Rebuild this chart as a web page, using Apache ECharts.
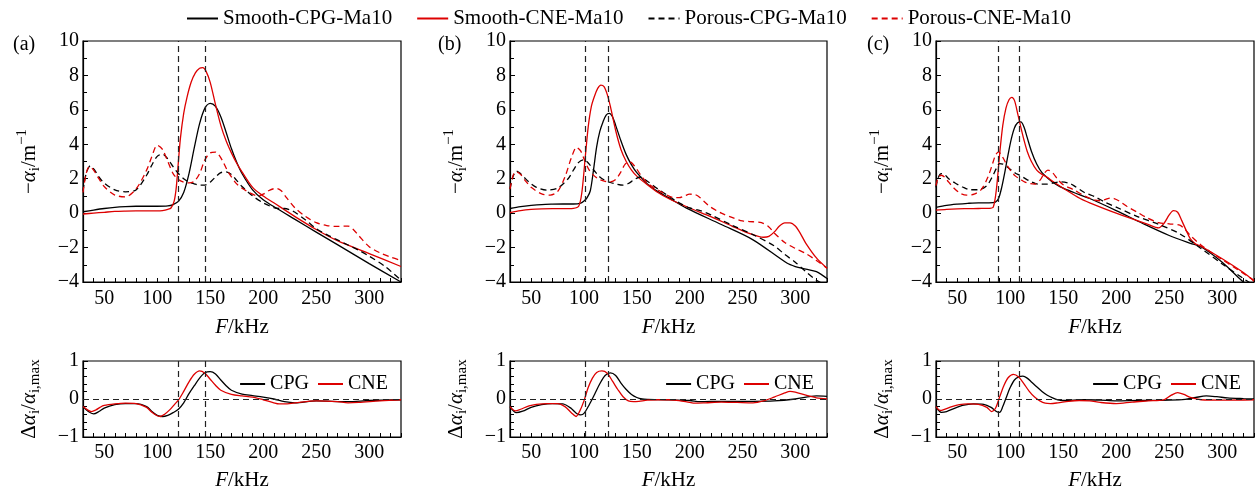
<!DOCTYPE html>
<html>
<head>
<meta charset="utf-8">
<script src="https://cdn.jsdelivr.net/npm/echarts@6/dist/echarts.min.js"></script>
<style>html,body{margin:0;padding:0;background:#fff;}#chart{width:1257px;height:495px;}</style>
</head>
<body>
<div id="chart"></div>
<script>
// ---------- tick labels ----------
const xTickLabels = [50, 100, 150, 200, 250, 300];
const xTicks = [30, 40, 50, 60, 70, 80, 90, 100, 110, 120, 130, 140, 150, 160, 170, 180, 190, 200, 210, 220, 230, 240, 250, 260, 270, 280, 290, 300, 310, 320, 330];
const panelLabels = ['(a)', '(b)', '(c)'];
const seriesNames = ['Smooth-CPG-Ma10', 'Smooth-CNE-Ma10', 'Porous-CPG-Ma10', 'Porous-CNE-Ma10'];
const diffNames = ['CPG', 'CNE'];

// ---------- vertical reference lines (kHz) ----------
const aVLines = [120, 145];
const bVLines = [101, 123];
const cVLines = [89, 109];

// ---------- panel (a) ----------
const aSmCpgF = [30,40,50,60,70,80,90,100,110,115,120,125,130,135,140,145,150,155,160,165,170,175,180,190,200,213,230,250,270,300,330];
const aSmCpgV = [0.08,0.18,0.27,0.34,0.38,0.40,0.40,0.40,0.42,0.5,0.68,1.2,2.3,3.8,5.2,6.1,6.38,6.2,5.6,4.7,3.75,2.95,2.3,1.35,0.78,0.27,-0.36,-1.1,-1.83,-2.93,-4.0];
const aSmCneF = [30,40,50,60,70,80,90,100,105,110,113,116,118,120,122,125,128,132,136,140,143,146,150,155,160,165,170,175,180,190,200,210,230,250,270,300,330];
const aSmCneV = [-0.05,0.0,0.05,0.1,0.12,0.13,0.13,0.13,0.15,0.22,0.3,0.7,1.5,3.0,4.4,5.8,6.7,7.6,8.15,8.42,8.45,8.25,7.6,6.3,5.1,4.2,3.5,2.9,2.4,1.5,1.0,0.6,-0.2,-0.95,-1.6,-2.35,-3.1];
const aPoCpgF = [30,33,37,41,45,50,60,70,80,90,95,100,105,110,115,120,125,130,135,140,145,150,155,160,165,170,175,180,190,200,210,215,220,225,230,240,250,260,270,280,290,300,315,330];
const aPoCpgV = [1.3,2.3,2.75,2.5,2.1,1.75,1.35,1.24,1.35,2.2,2.8,3.3,3.43,3.15,2.7,2.3,2.0,1.8,1.7,1.63,1.63,1.8,2.1,2.35,2.4,2.25,1.9,1.55,1.0,0.6,0.32,0.27,0.27,0.2,0.05,-0.4,-0.9,-1.25,-1.55,-1.85,-2.15,-2.5,-3.1,-3.9];
const aPoCneF = [30,33,36,40,45,50,60,70,80,90,95,100,105,110,115,120,125,130,135,140,145,150,155,158,162,166,170,175,180,190,195,200,205,210,213,217,222,230,240,250,260,270,280,285,290,300,310,320,330];
const aPoCneV = [1.2,2.3,2.7,2.5,2.0,1.55,1.05,0.95,1.4,2.5,3.3,3.95,3.7,3.0,2.3,1.95,1.8,1.76,1.85,2.3,3.1,3.5,3.55,3.4,3.0,2.5,2.1,1.7,1.45,1.1,1.0,1.1,1.3,1.42,1.43,1.3,0.9,0.3,-0.2,-0.55,-0.72,-0.77,-0.75,-0.95,-1.3,-1.95,-2.3,-2.55,-2.75];
const aDCpgF = [30,35,40,45,50,60,70,80,90,95,100,105,110,115,120,125,130,135,140,145,150,155,160,165,170,180,190,200,210,220,230,250,280,300,330];
const aDCpgV = [-0.2,-0.33,-0.39,-0.33,-0.24,-0.15,-0.12,-0.12,-0.2,-0.33,-0.43,-0.46,-0.43,-0.36,-0.27,-0.1,0.14,0.35,0.55,0.69,0.72,0.66,0.5,0.35,0.23,0.13,0.09,0.05,0.0,-0.07,-0.1,-0.05,-0.07,-0.04,-0.02];
const aDCneF = [30,35,38,42,46,50,60,70,80,90,95,100,103,107,112,117,120,125,130,135,140,145,150,155,160,170,180,190,200,210,215,220,230,250,270,280,290,310,330];
const aDCneV = [-0.2,-0.3,-0.33,-0.29,-0.22,-0.17,-0.13,-0.11,-0.12,-0.22,-0.35,-0.44,-0.46,-0.4,-0.28,-0.12,-0.03,0.2,0.45,0.65,0.74,0.68,0.52,0.36,0.23,0.12,0.08,0.05,-0.02,-0.1,-0.13,-0.13,-0.1,-0.05,-0.07,-0.1,-0.09,-0.05,-0.02];

// ---------- panel (b) ----------
const bSmCpgF = [30,40,50,60,70,80,90,97,100,103,106,109,112,115,118,121,124,127,130,135,140,145,150,160,170,180,197,230,260,292,300,310,320,330];
const bSmCpgV = [0.27,0.38,0.45,0.5,0.52,0.53,0.53,0.58,0.7,0.9,1.3,2.5,3.85,4.75,5.3,5.7,5.8,5.6,5.1,4.2,3.4,2.8,2.35,1.7,1.25,0.9,0.29,-0.66,-1.55,-2.9,-3.1,-3.25,-3.4,-3.8];
const bSmCneF = [30,40,50,60,70,80,90,95,98,101,104,107,110,113,116,119,122,125,130,135,140,145,150,160,170,180,200,220,240,255,265,270,275,280,285,290,295,300,305,310,320,330];
const bSmCneV = [0.03,0.15,0.22,0.25,0.26,0.26,0.28,0.4,1.2,3.1,5.0,6.2,6.8,7.25,7.44,7.35,6.9,6.2,4.8,3.7,3.0,2.5,2.15,1.65,1.2,0.85,0.3,-0.2,-0.75,-1.15,-1.35,-1.4,-1.35,-1.1,-0.75,-0.56,-0.56,-0.75,-1.2,-1.75,-2.6,-3.2];
const bPoCpgF = [30,33,36,39,43,48,55,65,75,85,90,95,100,105,110,115,120,125,130,137,142,147,153,160,170,180,190,200,210,220,240,260,280,290,300,310,320,326];
const bPoCpgV = [1.4,2.15,2.45,2.35,2.1,1.8,1.5,1.34,1.45,2.0,2.5,2.95,3.1,2.85,2.45,2.1,1.9,1.78,1.7,1.63,1.72,1.92,2.1,1.85,1.4,1.0,0.6,0.3,0.15,-0.1,-0.7,-1.25,-1.9,-2.4,-2.85,-3.4,-3.9,-4.1];
const bPoCneF = [30,33,36,40,45,50,60,68,75,82,88,93,97,101,105,110,115,120,125,130,135,139,143.5,147,150,155,160,170,180,185,190,195,200,205,210,215,220,230,240,250,260,268,275,280,290,300,310,320,330];
const bPoCneV = [1.4,2.2,2.4,2.25,1.85,1.5,1.12,1.05,1.25,2.1,3.2,3.82,3.6,3.0,2.5,2.15,1.95,1.85,1.82,1.95,2.4,2.85,2.98,2.8,2.55,2.1,1.75,1.35,1.0,0.9,0.9,1.0,1.1,1.08,0.9,0.6,0.35,0.0,-0.25,-0.45,-0.5,-0.55,-0.8,-1.15,-1.7,-2.05,-2.35,-2.75,-3.2];
const bDCpgF = [30,36,42,50,60,70,80,88,93,97,100,105,110,115,120,125,130,135,140,145,150,155,160,180,200,210,230,260,280,300,320,330];
const bDCpgV = [-0.2,-0.36,-0.32,-0.22,-0.15,-0.12,-0.13,-0.25,-0.38,-0.42,-0.38,-0.15,0.12,0.4,0.62,0.69,0.62,0.42,0.25,0.12,0.04,0.0,-0.01,-0.02,-0.04,-0.07,-0.06,-0.06,-0.05,0.0,0.08,0.07];
const bDCneF = [30,35,40,48,55,65,75,82,88,92.5,96,100,104,108,112,117,122,127,132,137,142,147,152,160,170,180,190,200,205,215,230,245,260,270,280,290,295,300,310,320,330];
const bDCneV = [-0.2,-0.31,-0.27,-0.18,-0.14,-0.12,-0.12,-0.2,-0.36,-0.46,-0.32,-0.05,0.3,0.55,0.7,0.74,0.68,0.47,0.25,0.06,-0.05,-0.07,-0.06,-0.03,-0.02,-0.02,-0.04,-0.09,-0.11,-0.1,-0.08,-0.09,-0.1,-0.05,0.05,0.16,0.2,0.18,0.1,0.03,0.0];

// ---------- panel (c) ----------
const cSmCpgF = [30,40,50,60,70,80,86,89,92,95,98,101,104,107,110,113,116,120,125,130,140,150,160,175,200,225,250,270,280,300,320,330];
const cSmCpgV = [0.33,0.45,0.52,0.57,0.6,0.6,0.64,0.85,1.5,2.4,3.4,4.3,4.95,5.25,5.3,5.0,4.4,3.6,2.85,2.35,1.8,1.45,1.2,0.85,0.15,-0.6,-1.3,-1.75,-1.95,-2.85,-4.0,-4.4];
const cSmCneF = [30,40,50,60,70,80,84,87,90,93,96,99,101.5,104,107,110,113,116,120,125,130,135,140,150,166,175,200,230,240,245,250,254,258,262,266,270,275,280,300,320,330];
const cSmCneV = [0.17,0.22,0.25,0.26,0.27,0.28,0.35,1.4,3.4,5.1,6.1,6.6,6.73,6.55,5.8,5.0,4.25,3.6,3.0,2.5,2.25,2.08,1.85,1.45,0.85,0.6,0.0,-0.65,-0.85,-0.6,-0.1,0.15,0.05,-0.45,-1.0,-1.5,-1.8,-1.92,-2.65,-3.45,-3.95];
const cPoCpgF = [30,32,35,38,42,48,55,62,70,78,83,87,90,93,97,101,105,109,115,120,124,128,135,140,147,155,160,170,180,190,200,220,240,260,280,300,320,330];
const cPoCpgV = [1.5,2.05,2.3,2.25,2.0,1.75,1.52,1.36,1.36,1.6,2.1,2.6,2.88,2.85,2.7,2.5,2.32,2.2,1.98,1.82,1.72,1.68,1.68,1.74,1.82,1.75,1.6,1.2,0.95,0.62,0.35,-0.2,-0.65,-1.2,-2.05,-2.95,-3.8,-4.2];
const cPoCneF = [30,32,35,38,42,47,53,59,66,73,79,83,86,89,92,96,100,105,110,114,118,123,128,132,135.6,140,145,150,160,170,180,185,190,194,198,203,210,220,230,240,250,260,265,270,280,290,300,310,320,330];
const cPoCneV = [1.6,2.05,2.2,2.1,1.8,1.45,1.15,1.05,1.1,1.4,2.1,2.8,3.35,3.56,3.35,2.9,2.5,2.15,1.95,1.8,1.72,1.69,1.9,2.3,2.5,2.35,1.95,1.65,1.35,1.0,0.75,0.72,0.8,0.87,0.85,0.7,0.4,0.05,-0.3,-0.55,-0.62,-0.7,-0.95,-1.3,-1.85,-2.3,-2.7,-3.1,-3.5,-3.9];
const cDCpgF = [30,35,40,48,55,65,75,82,87,90,93,96,100,104,108,112,116,120,125,130,135,140,145,150,160,170,185,200,220,250,265,275,285,295,305,320,330];
const cDCpgV = [-0.2,-0.35,-0.33,-0.24,-0.17,-0.13,-0.14,-0.22,-0.33,-0.35,-0.2,0.02,0.3,0.5,0.58,0.6,0.55,0.45,0.32,0.2,0.1,0.03,-0.02,-0.04,-0.03,-0.02,-0.03,-0.05,-0.04,-0.03,-0.01,0.04,0.08,0.06,0.03,0.01,0.0];
const cDCneF = [30,34,38,45,52,60,70,78,82.5,86,90,94,98,103,108,113,118,123,128,133,138,145,155,165,175,185,200,215,230,245,252,258,264,270,280,300,330];
const cDCneV = [-0.2,-0.3,-0.27,-0.2,-0.15,-0.13,-0.14,-0.22,-0.33,-0.25,0.05,0.35,0.56,0.65,0.58,0.4,0.2,0.05,-0.05,-0.11,-0.12,-0.1,-0.06,-0.04,-0.05,-0.09,-0.12,-0.08,-0.05,-0.02,0.1,0.17,0.12,0.04,-0.02,-0.03,-0.02];

// ---------- build ----------
const FONT = "'Liberation Serif', 'Times New Roman', 'DejaVu Serif', serif";
const BLACK = '#000000';
const RED = '#dd0000';
const zip = (f, v) => f.map((x, i) => [x, v[i]]);
const minus = v => String(v).replace('-', '\u2212');

const panels = [
  { top: [[aSmCpgF,aSmCpgV],[aSmCneF,aSmCneV],[aPoCpgF,aPoCpgV],[aPoCneF,aPoCneV]], diff: [[aDCpgF,aDCpgV],[aDCneF,aDCneV]], vlines: aVLines },
  { top: [[bSmCpgF,bSmCpgV],[bSmCneF,bSmCneV],[bPoCpgF,bPoCpgV],[bPoCneF,bPoCneV]], diff: [[bDCpgF,bDCpgV],[bDCneF,bDCneV]], vlines: bVLines },
  { top: [[cSmCpgF,cSmCpgV],[cSmCneF,cSmCneV],[cPoCpgF,cPoCpgV],[cPoCneF,cPoCneV]], diff: [[cDCpgF,cDCpgV],[cDCneF,cDCneV]], vlines: cVLines }
];
const gridLeft = [83, 510, 936];
const gridWidth = [318, 317, 318];
const topStyles = [
  { color: BLACK, type: 'solid' }, { color: RED, type: 'solid' },
  { color: BLACK, type: [6, 4] }, { color: RED, type: [6, 4] }
];

const richName = {
  it: { fontStyle: 'italic', fontFamily: FONT, fontSize: 21, lineHeight: 28, verticalAlign: 'middle', color: '#000' },
  n: { fontFamily: FONT, fontSize: 21, lineHeight: 28, verticalAlign: 'middle', color: '#000' },
  sub: { fontFamily: FONT, fontSize: 15, lineHeight: 28, verticalAlign: 'bottom', color: '#000' },
  sup: { fontFamily: FONT, fontSize: 15, lineHeight: 28, verticalAlign: 'top', color: '#000' }
};

const grids = [], xAxes = [], yAxes = [], series = [], titles = [];
const hiddenSymbol = { color: 'rgba(0,0,0,0)', borderColor: 'rgba(0,0,0,0)', borderWidth: 0, opacity: 0 };
const legends = [{
  data: seriesNames, top: 3, left: 'center', itemWidth: 31, itemHeight: 14, itemGap: 24,
  itemStyle: hiddenSymbol,
  textStyle: { fontFamily: FONT, fontSize: 21, color: '#000' }
}];
const vlineStyle = { color: '#222', type: [6, 4], width: 1.2 };

panels.forEach((p, pi) => {
  const base = { left: gridLeft[pi], width: gridWidth[pi], show: true, borderColor: '#000', borderWidth: 1.2, backgroundColor: 'transparent' };
  grids.push(Object.assign({ top: 41, height: 241 }, base));
  grids.push(Object.assign({ top: 361, height: 76 }, base));
  [0, 1].forEach(k => {
    const gi = pi * 2 + k;
    xAxes.push({
      type: 'value', gridIndex: gi, min: 30, max: 330,
      name: '{it|F}{n|/kHz}', nameLocation: 'middle', nameGap: k === 0 ? 31 : 29,
      nameTextStyle: { rich: richName },
      axisLine: { show: true, onZero: false, lineStyle: { color: '#000', width: 1.2 } },
      axisTick: { show: true, inside: true, length: 4, customValues: xTicks, lineStyle: { color: '#000' } },
      axisLabel: { customValues: xTickLabels, margin: k === 0 ? 7 : 6, fontFamily: FONT, fontSize: 20, color: '#000' },
      splitLine: { show: false }
    });
    yAxes.push({
      type: 'value', gridIndex: gi,
      min: k === 0 ? -4 : -1, max: k === 0 ? 10 : 1, interval: k === 0 ? 2 : 1,
      name: k === 0 ? '{n|\u2212}{it|α}{sub|i}{n|/m}{sup|\u22121}' : '{n|Δ}{it|α}{sub|i}{n|/}{it|α}{sub|i,max}',
      nameLocation: 'middle', nameGap: 40,
      nameTextStyle: { rich: richName },
      axisLine: { show: true, onZero: false, lineStyle: { color: '#000', width: 1.2 } },
      axisTick: { show: true, inside: true, length: 5, lineStyle: { color: '#000' } },
      minorTick: { show: true, splitNumber: k === 0 ? 2 : 5, length: 4, lineStyle: { color: '#000' } },
      axisLabel: { margin: 4, fontFamily: FONT, fontSize: 20, color: '#000', formatter: minus },
      splitLine: { show: false }
    });
  });
  p.top.forEach((s, si) => {
    const ser = {
      type: 'line', name: seriesNames[si], xAxisIndex: pi * 2, yAxisIndex: pi * 2,
      data: zip(s[0], s[1]), symbol: 'none', smooth: 0.3,
      lineStyle: { color: topStyles[si].color, type: topStyles[si].type, width: 1.3 },
      itemStyle: { color: topStyles[si].color }, clip: true, z: 3
    };
    if (si === 0) {
      ser.markLine = { silent: true, symbol: ['none', 'none'], label: { show: false }, lineStyle: vlineStyle,
        data: p.vlines.map(v => ({ xAxis: v })), animation: false };
    }
    series.push(ser);
  });
  p.diff.forEach((s, si) => {
    const col = si === 0 ? BLACK : RED;
    const ser = {
      type: 'line', name: diffNames[si], xAxisIndex: pi * 2 + 1, yAxisIndex: pi * 2 + 1,
      data: zip(s[0], s[1]), symbol: 'none', smooth: 0.3,
      lineStyle: { color: col, width: 1.3 }, itemStyle: { color: col }, clip: true, z: 3
    };
    if (si === 0) {
      ser.markLine = { silent: true, symbol: ['none', 'none'], label: { show: false }, lineStyle: vlineStyle,
        data: p.vlines.map(v => ({ xAxis: v })).concat([{ yAxis: 0 }]), animation: false };
    }
    series.push(ser);
  });
  legends.push({
    data: diffNames, top: 369, right: 1257 - (gridLeft[pi] + gridWidth[pi]) + 8,
    itemWidth: 25, itemHeight: 14, itemGap: 8, itemStyle: hiddenSymbol,
    textStyle: { fontFamily: FONT, fontSize: 20, color: '#000' }
  });
  titles.push({ text: panelLabels[pi], left: [8, 433, 862][pi], top: 30,
    textStyle: { fontFamily: FONT, fontSize: 20, fontWeight: 'normal', color: '#000' } });
});

const chart = echarts.init(document.getElementById('chart'), null, { renderer: 'canvas' });
chart.setOption({
  animation: false,
  backgroundColor: '#fff',
  title: titles,
  legend: legends,
  grid: grids,
  xAxis: xAxes,
  yAxis: yAxes,
  series: series
});
</script>
</body>
</html>
